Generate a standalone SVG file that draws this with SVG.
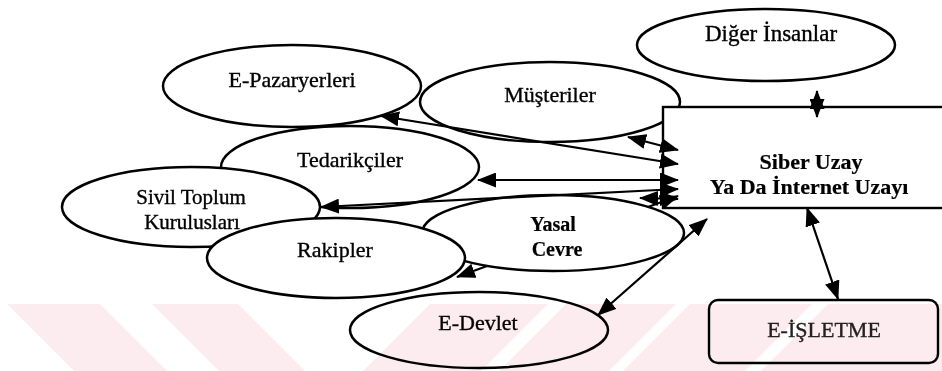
<svg xmlns="http://www.w3.org/2000/svg" width="942" height="371" viewBox="0 0 942 371">
<defs>
<style>
.n ellipse{fill:#fff;stroke:#000;stroke-width:2.5}
.n rect{fill:#fff;stroke:#000;stroke-width:2.4}
text{font-family:"Liberation Serif","Times New Roman",serif;font-size:22px;text-anchor:middle;fill:#000;stroke:#000;stroke-width:0.35}
.b{font-weight:bold;stroke-width:0.2}
.c line{stroke:#000;stroke-width:2.2;marker-start:url(#ah);marker-end:url(#ah)}
.wm{fill:#fdecef;mix-blend-mode:multiply}
</style>
<marker id="ah" viewBox="0 0 19 15" refX="18" refY="7.5" markerWidth="19" markerHeight="15" markerUnits="userSpaceOnUse" orient="auto-start-reverse">
<path d="M0,0 L19,7.5 L0,15 z" fill="#000"/>
</marker>
<mask id="underYasal" maskUnits="userSpaceOnUse" x="0" y="0" width="942" height="371">
<rect x="0" y="0" width="942" height="371" fill="#fff"/>
<ellipse cx="553" cy="233" rx="131" ry="38" fill="#000"/>
</mask>
</defs>

<g id="n-epazar" class="n"><ellipse cx="292" cy="86" rx="129" ry="41"/><text x="292" y="87">E-Pazaryerleri</text></g>
<g id="n-musteriler" class="n"><ellipse cx="550" cy="102" rx="130" ry="40"/><text x="550" y="102">Müşteriler</text></g>
<g id="n-diger" class="n"><ellipse cx="766" cy="45" rx="129" ry="36"/><text x="771" y="41" style="font-size:23px">Diğer İnsanlar</text></g>
<g id="n-tedarikciler" class="n"><ellipse cx="350" cy="167" rx="129" ry="41"/><text x="350" y="167">Tedarikçiler</text></g>
<g id="n-sivil" class="n"><ellipse cx="191" cy="207" rx="129" ry="40"/><text x="191" y="204" style="font-size:21px">Sivil Toplum</text><text x="192" y="229" style="font-size:21px">Kurulusları</text></g>
<g id="n-yasal" class="n"><ellipse cx="553" cy="233" rx="131" ry="38"/><text class="b" x="553" y="231" style="font-size:20px">Yasal</text><text class="b" x="557" y="256" style="font-size:20px">Cevre</text></g>
<g id="n-rakipler" class="n"><ellipse cx="336" cy="258" rx="129" ry="40"/><text x="335" y="257">Rakipler</text></g>
<g id="n-edevlet" class="n"><ellipse cx="479" cy="330" rx="129" ry="38"/><text x="478" y="330">E-Devlet</text></g>
<g id="n-siber" class="n"><rect x="663" y="107" width="300" height="101"/><text class="b" x="811" y="169">Siber Uzay</text><text class="b" x="809" y="194">Ya Da İnternet Uzayı</text></g>
<g id="n-eisletme" class="n"><rect x="709" y="300" width="229" height="63" rx="9"/><text x="824" y="337" style="fill:#222;stroke:#222">E-İŞLETME</text></g>

<g id="connectors" class="c">
<line x1="678" y1="150" x2="628" y2="137"/>
<line x1="678" y1="164" x2="381" y2="116"/>
<line x1="678" y1="180" x2="478" y2="180"/>
<line x1="678" y1="189" x2="321" y2="207"/>
<line x1="678" y1="196" x2="457" y2="277" mask="url(#underYasal)"/>
<line x1="678" y1="199" x2="640" y2="198"/>
<line x1="817" y1="117" x2="817" y2="91"/>
<line x1="807" y1="208" x2="838" y2="299"/>
<line x1="707" y1="219" x2="598" y2="315"/>
</g>

<g id="watermark">
<polygon class="wm" points="7,304 100,304 167,371 74,371"/>
<polygon class="wm" points="152,304 238,304 305,371 219,371"/>
<polygon class="wm" points="430,304 548,304 481,371 363,371"/>
<polygon class="wm" points="566,304 676,304 609,371 499,371"/>
<polygon class="wm" points="690,304 812,304 745,371 623,371"/>
<polygon class="wm" points="828,304 942,304 942,371 761,371"/>
</g>
</svg>
